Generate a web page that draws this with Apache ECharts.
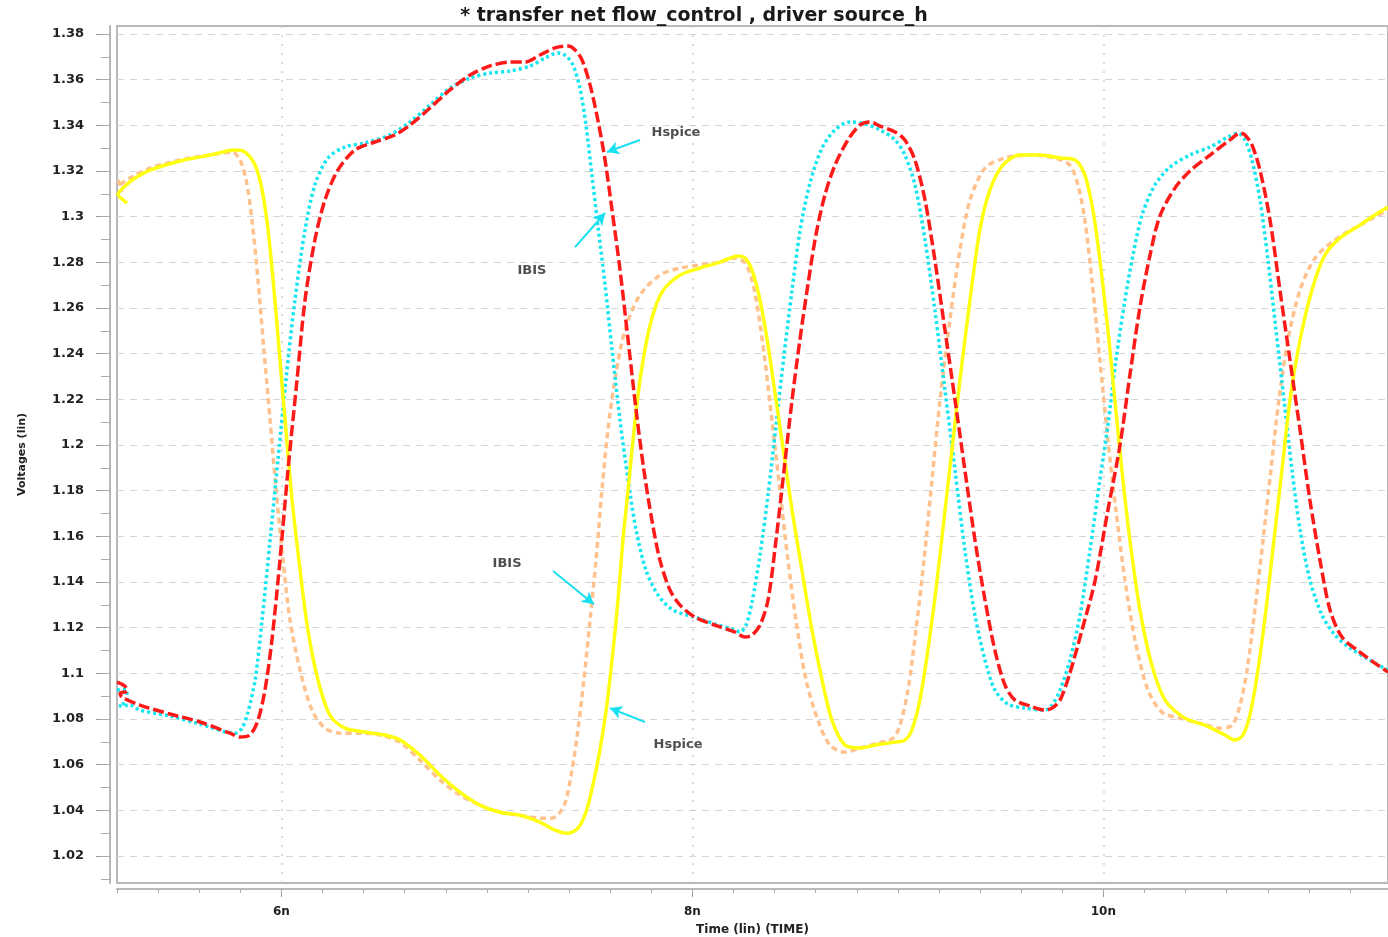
<!DOCTYPE html>
<html>
<head>
<meta charset="utf-8">
<script src="https://cdn.jsdelivr.net/npm/echarts@6/dist/echarts.min.js"></script>
<style>
html,body{margin:0;padding:0;background:#fff;}
#chart{width:1388px;height:937px;}
</style>
</head>
<body>
<div id="chart"></div>
<script>
// ---- Data (time in ns, voltage in V) ----
const hspicePos = [[5.200,1.0962],[5.239,1.0944],[5.249,1.0922],[5.215,1.0914],[5.224,1.0896],[5.312,1.0861],[5.458,1.0822],[5.604,1.0787],[5.750,1.0738],[5.799,1.0721],[5.847,1.0730],[5.886,1.0795],[5.920,1.0927],[5.954,1.1146],[5.993,1.1496],[6.032,1.1890],[6.076,1.2285],[6.115,1.2635],[6.163,1.2898],[6.212,1.3073],[6.275,1.3204],[6.358,1.3292],[6.455,1.3327],[6.553,1.3358],[6.626,1.3401],[6.723,1.3476],[6.820,1.3555],[6.918,1.3620],[7.015,1.3660],[7.112,1.3677],[7.185,1.3677],[7.258,1.3708],[7.331,1.3739],[7.395,1.3747],[7.429,1.3730],[7.463,1.3686],[7.502,1.3577],[7.540,1.3423],[7.575,1.3248],[7.609,1.3029],[7.648,1.2766],[7.687,1.2460],[7.726,1.2153],[7.764,1.1890],[7.803,1.1671],[7.842,1.1496],[7.891,1.1365],[7.940,1.1299],[8.013,1.1246],[8.110,1.1211],[8.207,1.1181],[8.256,1.1159],[8.290,1.1168],[8.329,1.1211],[8.368,1.1321],[8.407,1.1584],[8.446,1.1890],[8.485,1.2197],[8.523,1.2460],[8.562,1.2701],[8.601,1.2920],[8.645,1.3095],[8.694,1.3226],[8.757,1.3336],[8.815,1.3401],[8.864,1.3415],[8.913,1.3397],[8.986,1.3371],[9.034,1.3336],[9.083,1.3248],[9.132,1.3073],[9.180,1.2810],[9.229,1.2504],[9.278,1.2197],[9.326,1.1890],[9.375,1.1584],[9.424,1.1321],[9.472,1.1102],[9.521,1.0949],[9.570,1.0883],[9.643,1.0857],[9.716,1.0839],[9.750,1.0848],[9.789,1.0883],[9.837,1.1001],[9.896,1.1190],[9.959,1.1404],[10.022,1.1715],[10.081,1.2000],[10.129,1.2306],[10.178,1.2604],[10.227,1.2832],[10.275,1.3003],[10.348,1.3125],[10.421,1.3200],[10.519,1.3270],[10.616,1.3336],[10.665,1.3366],[10.689,1.3358],[10.723,1.3314],[10.762,1.3204],[10.811,1.2985],[10.859,1.2679],[10.908,1.2372],[10.957,1.2066],[11.005,1.1759],[11.054,1.1496],[11.103,1.1277],[11.161,1.1159],[11.248,1.1093],[11.321,1.1045],[11.385,1.1006]];

const ibisPos = [[5.200,1.0927],[5.244,1.0931],[5.249,1.0883],[5.210,1.0857],[5.263,1.0861],[5.312,1.0839],[5.458,1.0813],[5.604,1.0778],[5.774,1.0738],[5.808,1.0760],[5.837,1.0830],[5.872,1.0971],[5.906,1.1233],[5.945,1.1584],[5.983,1.1934],[6.022,1.2285],[6.066,1.2635],[6.115,1.2942],[6.163,1.3139],[6.227,1.3257],[6.309,1.3305],[6.407,1.3323],[6.528,1.3358],[6.626,1.3415],[6.723,1.3489],[6.820,1.3563],[6.918,1.3607],[7.015,1.3629],[7.112,1.3638],[7.210,1.3660],[7.283,1.3695],[7.346,1.3717],[7.385,1.3704],[7.419,1.3664],[7.453,1.3563],[7.482,1.3401],[7.511,1.3182],[7.540,1.2963],[7.575,1.2701],[7.609,1.2416],[7.648,1.2109],[7.687,1.1847],[7.726,1.1628],[7.774,1.1452],[7.833,1.1343],[7.906,1.1277],[8.013,1.1246],[8.110,1.1216],[8.207,1.1190],[8.232,1.1181],[8.261,1.1211],[8.290,1.1312],[8.329,1.1518],[8.368,1.1781],[8.407,1.2087],[8.446,1.2394],[8.485,1.2679],[8.523,1.2933],[8.572,1.3147],[8.631,1.3301],[8.694,1.3380],[8.767,1.3415],[8.840,1.3406],[8.913,1.3380],[8.986,1.3336],[9.034,1.3270],[9.083,1.3139],[9.132,1.2898],[9.180,1.2591],[9.229,1.2241],[9.278,1.1890],[9.326,1.1540],[9.375,1.1255],[9.424,1.1058],[9.472,1.0927],[9.536,1.0865],[9.618,1.0848],[9.716,1.0839],[9.750,1.0861],[9.789,1.0927],[9.837,1.1058],[9.886,1.1255],[9.935,1.1540],[9.983,1.1847],[10.022,1.2087],[10.061,1.2372],[10.105,1.2635],[10.144,1.2832],[10.188,1.3007],[10.251,1.3139],[10.324,1.3217],[10.421,1.3270],[10.519,1.3305],[10.606,1.3349],[10.655,1.3366],[10.689,1.3336],[10.723,1.3248],[10.762,1.3073],[10.801,1.2810],[10.840,1.2504],[10.879,1.2197],[10.918,1.1890],[10.957,1.1628],[11.005,1.1409],[11.064,1.1255],[11.127,1.1168],[11.200,1.1111],[11.297,1.1058],[11.385,1.1014]];

const hspiceNeg = [[5.249,1.3060],[5.205,1.3099],[5.234,1.3130],[5.288,1.3169],[5.361,1.3204],[5.507,1.3244],[5.653,1.3270],[5.774,1.3292],[5.823,1.3283],[5.872,1.3226],[5.906,1.3117],[5.935,1.2942],[5.964,1.2679],[5.993,1.2372],[6.022,1.2066],[6.052,1.1759],[6.091,1.1452],[6.129,1.1190],[6.178,1.0971],[6.236,1.0817],[6.309,1.0760],[6.407,1.0743],[6.504,1.0730],[6.577,1.0708],[6.674,1.0642],[6.772,1.0554],[6.869,1.0480],[6.966,1.0423],[7.064,1.0392],[7.161,1.0379],[7.258,1.0349],[7.331,1.0314],[7.395,1.0300],[7.443,1.0322],[7.482,1.0392],[7.516,1.0511],[7.550,1.0664],[7.579,1.0830],[7.609,1.1058],[7.638,1.1321],[7.662,1.1584],[7.687,1.1803],[7.711,1.2022],[7.745,1.2285],[7.794,1.2525],[7.852,1.2670],[7.940,1.2744],[8.037,1.2775],[8.134,1.2801],[8.222,1.2828],[8.256,1.2819],[8.290,1.2766],[8.329,1.2635],[8.368,1.2438],[8.407,1.2197],[8.446,1.1956],[8.485,1.1715],[8.533,1.1452],[8.582,1.1190],[8.631,1.0971],[8.679,1.0795],[8.742,1.0686],[8.815,1.0673],[8.888,1.0686],[8.986,1.0699],[9.034,1.0708],[9.068,1.0752],[9.107,1.0883],[9.146,1.1102],[9.185,1.1365],[9.224,1.1671],[9.263,1.1978],[9.302,1.2285],[9.351,1.2635],[9.399,1.2942],[9.448,1.3117],[9.511,1.3226],[9.594,1.3270],[9.691,1.3270],[9.789,1.3257],[9.862,1.3248],[9.910,1.3182],[9.949,1.3029],[9.983,1.2810],[10.022,1.2504],[10.056,1.2197],[10.090,1.1890],[10.129,1.1584],[10.178,1.1277],[10.236,1.1036],[10.300,1.0883],[10.397,1.0804],[10.494,1.0773],[10.592,1.0730],[10.640,1.0708],[10.679,1.0730],[10.713,1.0817],[10.752,1.1014],[10.791,1.1277],[10.830,1.1584],[10.869,1.1890],[10.908,1.2197],[10.957,1.2460],[11.015,1.2679],[11.078,1.2832],[11.151,1.2906],[11.248,1.2963],[11.321,1.3007],[11.385,1.3042]];

const ibisNeg = [[5.205,1.3161],[5.224,1.3108],[5.215,1.3134],[5.263,1.3169],[5.361,1.3213],[5.507,1.3248],[5.653,1.3270],[5.760,1.3283],[5.799,1.3248],[5.828,1.3161],[5.857,1.2985],[5.886,1.2723],[5.915,1.2416],[5.945,1.2109],[5.974,1.1803],[6.008,1.1496],[6.042,1.1233],[6.091,1.1014],[6.149,1.0839],[6.212,1.0760],[6.285,1.0738],[6.382,1.0738],[6.480,1.0730],[6.577,1.0699],[6.674,1.0620],[6.772,1.0533],[6.869,1.0467],[6.966,1.0423],[7.064,1.0392],[7.161,1.0379],[7.258,1.0366],[7.317,1.0366],[7.356,1.0392],[7.385,1.0445],[7.414,1.0576],[7.443,1.0752],[7.472,1.0971],[7.502,1.1233],[7.531,1.1496],[7.560,1.1803],[7.589,1.2066],[7.623,1.2285],[7.672,1.2504],[7.745,1.2657],[7.842,1.2744],[7.940,1.2775],[8.037,1.2788],[8.134,1.2801],[8.207,1.2819],[8.256,1.2797],[8.290,1.2723],[8.319,1.2591],[8.353,1.2372],[8.387,1.2109],[8.426,1.1803],[8.465,1.1496],[8.504,1.1233],[8.553,1.0971],[8.611,1.0795],[8.669,1.0686],[8.742,1.0655],[8.815,1.0673],[8.903,1.0695],[8.976,1.0716],[9.010,1.0773],[9.049,1.0927],[9.088,1.1190],[9.127,1.1496],[9.166,1.1847],[9.205,1.2197],[9.253,1.2547],[9.302,1.2854],[9.351,1.3073],[9.424,1.3213],[9.521,1.3257],[9.643,1.3270],[9.764,1.3257],[9.837,1.3226],[9.876,1.3139],[9.910,1.2985],[9.944,1.2723],[9.983,1.2372],[10.022,1.2022],[10.061,1.1715],[10.105,1.1409],[10.154,1.1146],[10.217,1.0927],[10.285,1.0830],[10.373,1.0804],[10.470,1.0782],[10.567,1.0760],[10.626,1.0773],[10.665,1.0861],[10.699,1.1014],[10.737,1.1277],[10.777,1.1584],[10.815,1.1890],[10.854,1.2197],[10.898,1.2460],[10.957,1.2679],[11.030,1.2819],[11.127,1.2898],[11.248,1.2963],[11.385,1.3029]];

// ---- Axis ticks / labels ----
const xMajorTicks = [6, 8, 10];
const yMajorTicks = [1.02,1.04,1.06,1.08,1.1,1.12,1.14,1.16,1.18,1.2,1.22,1.24,1.26,1.28,1.3,1.32,1.34,1.36,1.38];
const xRange = [5.2, 11.385];
const yRange = [1.0082, 1.3835];

// ---- Annotations (data coordinates) ----
const annoTexts = [
  {name: 'Hspice', value: [7.920, 1.3366]},
  {name: 'IBIS',   value: [7.219, 1.2762]},
  {name: 'IBIS',   value: [7.098, 1.1479]},
  {name: 'Hspice', value: [7.930, 1.0686]}
];
const annoArrows = [
  [[7.745, 1.3336], [7.584, 1.3283]],
  [[7.429, 1.2867], [7.575, 1.3016]],
  [[7.322, 1.1448], [7.521, 1.1303]],
  [[7.769, 1.0787], [7.599, 1.0848]]
];

const xMinorTicks = [];
for (let i = 0; i <= 31; i++) xMinorTicks.push(+(5.2 + i * 0.2).toFixed(2));
const yMinorTicks = [];
for (let i = 0; i <= 37; i++) yMinorTicks.push(+(1.01 + i * 0.01).toFixed(2));

const FONT = '"DejaVu Sans", "Liberation Sans", Arial, sans-serif';
const chart = echarts.init(document.getElementById('chart'), null, {renderer: 'canvas'});

const option = {
  animation: false,
  backgroundColor: '#ffffff',
  title: {
    text: '* transfer net flow_control , driver source_h',
    left: 'center', top: 2,
    textStyle: {fontFamily: FONT, fontSize: 19, fontWeight: 'bold', color: '#1a1a1a'}
  },
  grid: {
    left: 117, right: 0, top: 26, bottom: 54,
    containLabel: false, outerBoundsMode: 'none',
    show: true, borderColor: '#b8b8b8', borderWidth: 2, backgroundColor: '#fff'
  },
  xAxis: [
    {
      type: 'value', min: xRange[0], max: xRange[1], position: 'bottom', offset: 6,
      name: 'Time (lin) (TIME)', nameLocation: 'middle', nameGap: 35,
      nameTextStyle: {fontFamily: FONT, fontSize: 12, fontWeight: 'bold', color: '#222'},
      axisLine: {show: true, lineStyle: {color: '#b8b8b8', width: 2}},
      axisTick: {show: true, customValues: xMajorTicks, length: 8, lineStyle: {color: '#999'}},
      axisLabel: {customValues: xMajorTicks, margin: 17, formatter: v => v + 'n',
        fontFamily: FONT, fontSize: 12, fontWeight: 'bold', color: '#222'},
      splitLine: {show: true, lineStyle: {color: '#d0d0d0', type: [2, 7], width: 1.5}}
    },
    {
      type: 'value', min: xRange[0], max: xRange[1], position: 'bottom', offset: 6,
      axisLine: {show: false},
      axisTick: {show: true, customValues: xMinorTicks, length: 4, lineStyle: {color: '#aaa'}},
      axisLabel: {show: false},
      splitLine: {show: false}
    }
  ],
  yAxis: [
    {
      type: 'value', min: yRange[0], max: yRange[1], position: 'left', offset: 7,
      name: 'Voltages (lin)', nameLocation: 'middle', nameGap: 82, nameRotate: 90,
      nameTextStyle: {fontFamily: FONT, fontSize: 11, fontWeight: 'bold', color: '#222'},
      axisLine: {show: true, lineStyle: {color: '#b8b8b8', width: 2}},
      axisTick: {show: true, customValues: yMajorTicks, length: 14, lineStyle: {color: '#999'}},
      axisLabel: {customValues: yMajorTicks, margin: 26,
        fontFamily: FONT, fontSize: 13, fontWeight: 'bold', color: '#222'},
      splitLine: {show: true, lineStyle: {color: '#d6d6d6', type: [7, 6], width: 1}}
    },
    {
      type: 'value', min: yRange[0], max: yRange[1], position: 'left', offset: 7,
      axisLine: {show: false},
      axisTick: {show: true, customValues: yMinorTicks, length: 9, lineStyle: {color: '#aaa'}},
      axisLabel: {show: false},
      splitLine: {show: false}
    }
  ],
  series: [
    {
      name: 'IBIS -', type: 'line', data: ibisNeg, showSymbol: false, z: 2, smooth: 0.3,
      lineStyle: {color: '#ffc28e', width: 3.5, type: [6, 4]}
    },
    {
      name: 'IBIS +', type: 'line', data: ibisPos, showSymbol: false, z: 3, smooth: 0.3,
      lineStyle: {color: '#14e6f0', width: 3.5, type: [3, 3]}
    },
    {
      name: 'Hspice -', type: 'line', data: hspiceNeg, showSymbol: false, z: 4, smooth: 0.3,
      lineStyle: {color: '#ffff10', width: 3.5, type: 'solid'}
    },
    {
      name: 'Hspice +', type: 'line', data: hspicePos, showSymbol: false, z: 5, smooth: 0.3,
      lineStyle: {color: '#ff1a1a', width: 3.5, type: [11, 4]}
    },
    {
      name: 'annotations', type: 'scatter', data: annoTexts, z: 6,
      symbolSize: 1, itemStyle: {color: 'rgba(0,0,0,0)'},
      label: {show: true, position: 'inside', formatter: p => p.name,
        fontFamily: FONT, fontSize: 13, fontWeight: 'bold', color: '#222'},
      silent: true,
      markLine: {
        silent: true, symbol: ['none', 'arrow'], symbolSize: [10, 12],
        label: {show: false},
        lineStyle: {color: '#18e0f0', width: 2, type: 'solid'},
        data: annoArrows.map(a => [{coord: a[0]}, {coord: a[1]}])
      }
    }
  ]
};
chart.setOption(option);
</script>
</body>
</html>
